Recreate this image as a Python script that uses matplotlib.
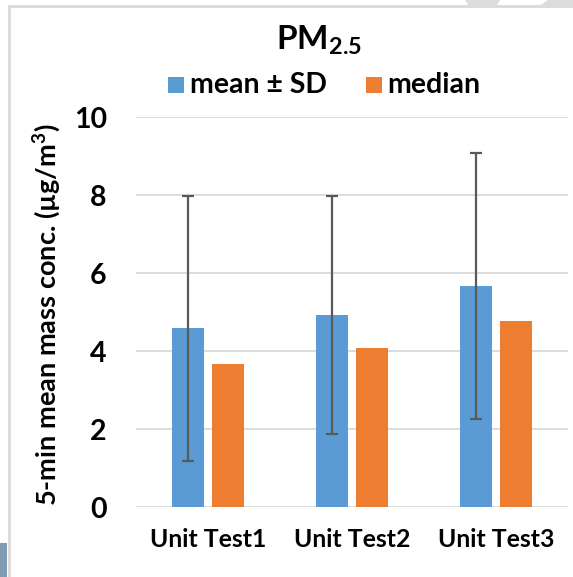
import matplotlib.pyplot as plt
import matplotlib.patches as mpatches
import numpy as np

plt.rcParams['font.family'] = ['Lato', 'DejaVu Sans']
plt.rcParams['font.weight'] = 'bold'

# PM2.5 per unit test
units = ['Unit Test1', 'Unit Test2', 'Unit Test3']
mean_vals = [4.58, 4.93, 5.66]
sd_vals = [3.40, 3.05, 3.41]
median_vals = [3.66, 4.08, 4.78]
y_ticks = [0, 2, 4, 6, 8, 10]

BLUE = '#5B9BD5'
ORANGE = '#ED7D31'
GRID = '#D9D9D9'

fig = plt.figure(figsize=(5.73, 5.77), dpi=100)
fig.patch.set_facecolor('white')
W, H = 573, 577


def fig_rect(x0, y0, w, h, color):
    # rectangle in pixel units, y measured from the top
    fig.add_artist(mpatches.Rectangle((x0 / W, 1 - (y0 + h) / H), w / W, h / H,
                                      transform=fig.transFigure, color=color, lw=0))


# frame of the chart box
fig_rect(8, 5, 3, H, '#DCDCDC')
fig_rect(8, 5, W, 2.5, '#DCDCDC')
# grey shapes peeking above the box at the top right
fig.add_artist(mpatches.Polygon([(465 / W, 1), (500 / W, 1), (497 / W, 1 - 5 / H), (468 / W, 1 - 5 / H)],
                                closed=True, transform=fig.transFigure, color='#DCDCDC', lw=0))
fig.add_artist(mpatches.Polygon([(548 / W, 1), (1, 1), (1, 1 - 5 / H), (541 / W, 1 - 5 / H)],
                                closed=True, transform=fig.transFigure, color='#DCDCDC', lw=0))
# bit of a neighbouring image at the bottom left
fig_rect(0, 543, 7, 34, '#7F9BB2')

ax = fig.add_axes([136 / W, 1 - 507 / H, 432 / W, 390 / H])

x = np.arange(len(units))
width = 0.222
off = 0.142

ax.bar(x - off, mean_vals, width, color=BLUE, zorder=2)
ax.errorbar(x - off, mean_vals, yerr=sd_vals, fmt='none', ecolor='#595959',
            elinewidth=1.6, capsize=4, capthick=1.6, zorder=3)
ax.bar(x + off, median_vals, width, color=ORANGE, zorder=2)

ax.set_xlim(-0.5, 2.5)
ax.set_ylim(0, 10)
ax.set_yticks(y_ticks)
ax.set_yticklabels([str(t) for t in y_ticks], fontsize=20.5, fontweight='bold')
ax.set_xticks(x)
ax.set_xticklabels(units, fontsize=17.8, fontweight='bold')
ax.tick_params(axis='y', length=0, pad=21)
ax.tick_params(axis='x', length=0, pad=15)
ax.yaxis.grid(True, color=GRID, lw=1.3, zorder=0)
ax.set_axisbelow(True)
for s in ax.spines.values():
    s.set_visible(False)

fig.text(47 / W, 1 - 315 / H, '5-min mean mass conc. (µg/m$^\\mathregular{3}$)',
         rotation=90, ha='center', va='center', fontsize=19.5, fontweight='bold')

fig.text(319 / W, 1 - 40 / H, r'PM$_\mathregular{2.5}$', ha='center', va='center',
         fontsize=24, fontweight='bold')

# legend row
fig_rect(168, 77, 16, 16, BLUE)
fig.text(190 / W, 1 - 93 / H, 'mean ± SD', ha='left', va='baseline', fontsize=20.5, fontweight='bold')
fig_rect(366, 77, 16, 16, ORANGE)
fig.text(387 / W, 1 - 93 / H, 'median', ha='left', va='baseline', fontsize=20.5, fontweight='bold')

fig.savefig('out.png', dpi=100)
